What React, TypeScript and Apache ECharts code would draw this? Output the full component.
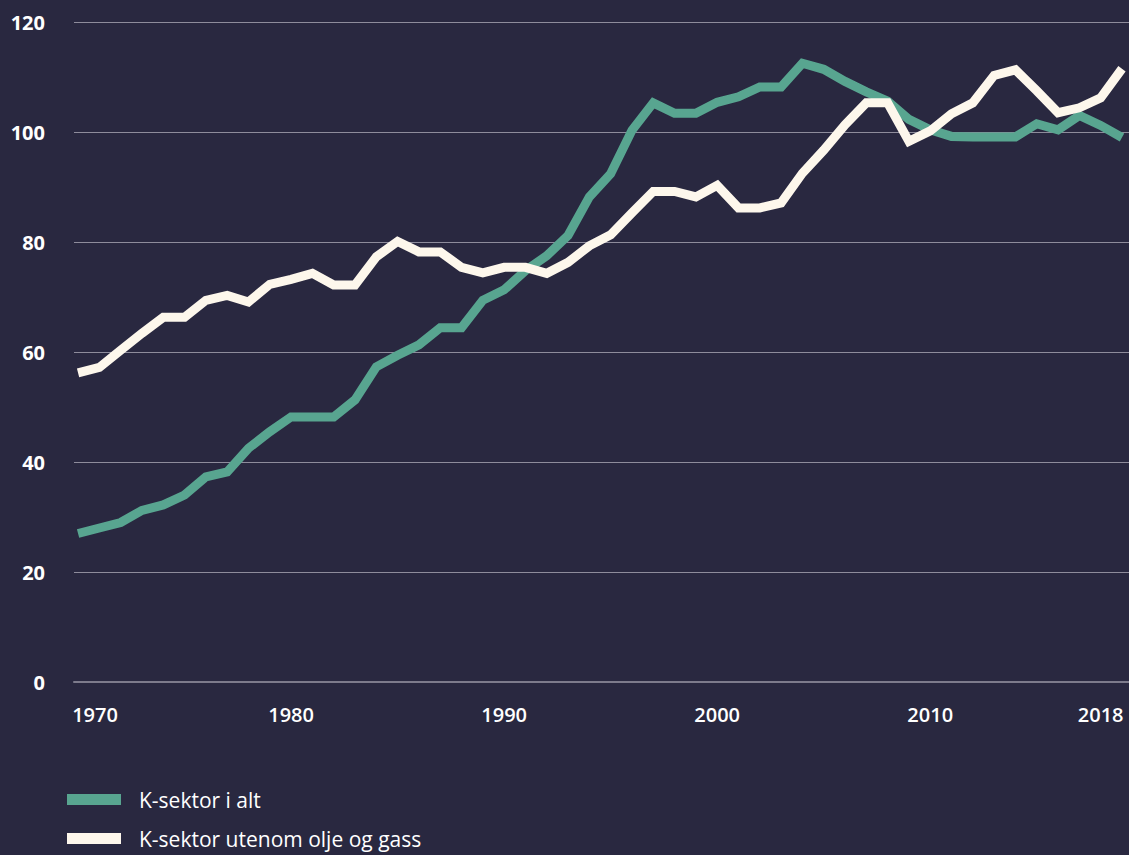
import React, { useEffect, useRef } from 'react';
import * as echarts from 'echarts';

const years = [
  1970, 1971, 1972, 1973, 1974, 1975, 1976, 1977, 1978, 1979,
  1980, 1981, 1982, 1983, 1984, 1985, 1986, 1987, 1988, 1989,
  1990, 1991, 1992, 1993, 1994, 1995, 1996, 1997, 1998, 1999,
  2000, 2001, 2002, 2003, 2004, 2005, 2006, 2007, 2008, 2009,
  2010, 2011, 2012, 2013, 2014, 2015, 2016, 2017, 2018, 2019,
];

const kSektorIAlt = [
  27, 28, 29, 31.2, 32.2, 34, 37.3, 38.2, 42.5, 45.5,
  48.2, 48.2, 48.2, 51.3, 57.3, 59.4, 61.3, 64.4, 64.4, 69.4,
  71.3, 74.8, 77.5, 81.2, 88.2, 92.4, 100.3, 105.3, 103.4, 103.4,
  105.4, 106.4, 108.2, 108.2, 112.5, 111.4, 109.2, 107.3, 105.6, 102.3,
  100.4, 99.2, 99.1, 99.1, 99.1, 101.5, 100.4, 103, 101.2, 99,
];

const kSektorUtenomOljeGass = [
  56.2, 57.2, 60.3, 63.4, 66.3, 66.3, 69.4, 70.3, 69.1, 72.3,
  73.2, 74.3, 72.2, 72.2, 77.3, 80.1, 78.2, 78.2, 75.4, 74.4,
  75.4, 75.4, 74.3, 76.3, 79.3, 81.3, 85.3, 89.2, 89.2, 88.2,
  90.3, 86.2, 86.2, 87.1, 92.5, 96.7, 101.3, 105.3, 105.3, 98.3,
  100.2, 103.3, 105.3, 110.3, 111.3, 107.5, 103.5, 104.4, 106.2, 111.5,
];

const seriesNames = ['K-sektor i alt', 'K-sektor utenom olje og gass'];
const xTickYears = [1970, 1980, 1990, 2000, 2010, 2018];
const yMin = 0;
const yMax = 120;
const yStep = 20;

export default function App() {
  const ref = useRef<HTMLDivElement>(null);

  useEffect(() => {
    if (!ref.current) return;
    const chart = echarts.init(ref.current, null, { renderer: 'svg' });
    const font = '"Open Sans", "Noto Sans", sans-serif';
    chart.setOption({
      animation: false,
      backgroundColor: '#292840',
      textStyle: { fontFamily: font },
      grid: { left: 74, right: 0, top: 22, height: 660 },
      xAxis: {
        type: 'value',
        min: 1969.81,
        max: 2019.33,
        axisLine: { show: true, onZero: false, lineStyle: { color: '#7d7b8c', width: 2 } },
        axisTick: { show: false },
        splitLine: { show: false },
        axisLabel: {
          customValues: xTickYears,
          color: '#ffffff',
          fontSize: 20,
          fontWeight: 600,
          fontFamily: font,
          margin: 22,
          formatter: (v: number) => (v === xTickYears[0] ? '{f|' + v + '}' : String(v)),
          rich: {
            f: { padding: [0, 0, 0, 34], fontSize: 20, fontWeight: 600, color: '#ffffff', fontFamily: font },
          },
        },
      },
      yAxis: {
        type: 'value',
        min: yMin,
        max: yMax,
        interval: yStep,
        axisLine: { show: false },
        axisTick: { show: false },
        axisLabel: { color: '#ffffff', fontSize: 20, fontWeight: 700, fontFamily: font, margin: 29 },
        splitLine: { lineStyle: { color: '#8e8c9c', width: 1 } },
      },
      legend: {
        show: true,
        orient: 'vertical',
        left: 67,
        top: 789,
        height: 64,
        padding: 0,
        icon: 'rect',
        itemWidth: 54,
        itemHeight: 11,
        itemGap: 18,
        textStyle: { color: '#ffffff', fontSize: 21, fontFamily: font, padding: [0, 0, 0, 13] },
        data: seriesNames,
      },
      series: [
        {
          name: seriesNames[0],
          type: 'line',
          data: years.map((y, i) => [y, kSektorIAlt[i]]),
          showSymbol: false,
          color: '#58a590',
          lineStyle: { width: 9, color: '#58a590', cap: 'butt', join: 'miter' },
        },
        {
          name: seriesNames[1],
          type: 'line',
          data: years.map((y, i) => [y, kSektorUtenomOljeGass[i]]),
          showSymbol: false,
          color: '#fdf7ec',
          lineStyle: { width: 9, color: '#fdf7ec', cap: 'butt', join: 'miter' },
        },
      ],
    });
    return () => chart.dispose();
  }, []);

  return (
    <div
      ref={ref}
      style={{ position: 'fixed', left: 0, top: 0, width: 1129, height: 855 }}
    />
  );
}
